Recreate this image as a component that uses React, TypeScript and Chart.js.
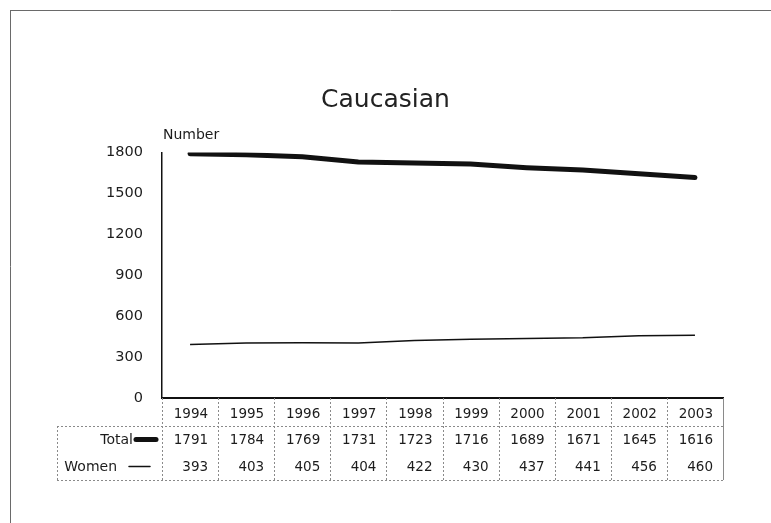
import React, { useEffect, useRef } from "react";
import { Chart, registerables } from "chart.js";

Chart.register(...registerables);

// ---- data ----
const years = ["1994", "1995", "1996", "1997", "1998", "1999", "2000", "2001", "2002", "2003"];
const totalValues = [1791, 1784, 1769, 1731, 1723, 1716, 1689, 1671, 1645, 1616];
const womenValues = [393, 403, 405, 404, 422, 430, 437, 441, 456, 460];
const yTickValues = [0, 300, 600, 900, 1200, 1500, 1800];
const seriesNames = ["Total", "Women"];
const chartTitle = "Caucasian";
const yAxisLabel = "Number";

// ---- styles ----
const FONT = "'DejaVu Sans', sans-serif";
const INK = "#1c1c1c";
const GRID = "#8a8a8a";

const tablePlugin = {
  id: "dataTable",
  afterDraw(chart: any) {
    const { ctx, chartArea, scales } = chart;
    const x = scales.x;
    const n = years.length;
    const colW = (x.getPixelForValue(n - 1) - x.getPixelForValue(0)) / (n - 1);
    const left = x.getPixelForValue(0) - colW / 2;
    const right = left + colW * n;
    const top = chartArea.bottom;
    const rowTops = [top, top + 28, top + 55];
    const bottom = top + 82;
    const labelLeft = 57;

    ctx.save();

    // page frame
    ctx.strokeStyle = "#6a6a6a";
    ctx.lineWidth = 1;
    ctx.beginPath();
    ctx.moveTo(10, 10.5);
    ctx.lineTo(771, 10.5);
    ctx.moveTo(10.5, 10);
    ctx.lineTo(10.5, 523);
    ctx.stroke();

    // axis caption
    ctx.fillStyle = INK;
    ctx.font = `14px ${FONT}`;
    ctx.textAlign = "left";
    ctx.textBaseline = "middle";
    ctx.fillText(yAxisLabel, chartArea.left + 1, chartArea.top - 17);

    // table grid (dotted)
    ctx.strokeStyle = GRID;
    ctx.lineWidth = 1;
    ctx.setLineDash([2, 2]);
    ctx.beginPath();
    for (let i = 0; i < n; i++) {
      const xx = Math.round(left + i * colW) + 0.5;
      ctx.moveTo(xx, top);
      ctx.lineTo(xx, bottom);
    }
    ctx.moveTo(labelLeft, rowTops[1] + 0.5);
    ctx.lineTo(right, rowTops[1] + 0.5);
    ctx.moveTo(labelLeft, bottom + 0.5);
    ctx.lineTo(right, bottom + 0.5);
    ctx.moveTo(labelLeft + 0.5, rowTops[1]);
    ctx.lineTo(labelLeft + 0.5, bottom);
    ctx.stroke();
    ctx.setLineDash([]);
    ctx.beginPath();
    ctx.moveTo(Math.round(right) + 0.5, top);
    ctx.lineTo(Math.round(right) + 0.5, bottom);
    ctx.stroke();

    // header row: years
    ctx.fillStyle = INK;
    ctx.font = `13.5px ${FONT}`;
    ctx.textAlign = "right";
    ctx.textBaseline = "middle";
    const rowMid = (r: number) => (r < 2 ? (rowTops[r] + rowTops[r + 1]) / 2 : (rowTops[r] + bottom) / 2);
    years.forEach((y, i) => {
      ctx.fillText(y, left + (i + 1) * colW - 10, rowMid(0) + 2);
    });

    // data rows
    const rows = [totalValues, womenValues];
    rows.forEach((vals, r) => {
      vals.forEach((v, i) => {
        ctx.fillText(String(v), left + (i + 1) * colW - 10, rowMid(r + 1) + 1);
      });
    });

    // row labels with legend keys
    const ds = chart.data.datasets;
    ctx.font = `14px ${FONT}`;
    const keyPos = [
      { textRight: 133, k0: 136, k1: 156 },
      { textRight: 117, k0: 129, k1: 150 },
    ];
    seriesNames.forEach((name, r) => {
      const cy = rowMid(r + 1) + 1;
      ctx.fillStyle = INK;
      ctx.textAlign = "right";
      ctx.fillText(name, keyPos[r].textRight, cy);
      ctx.strokeStyle = ds[r].borderColor;
      ctx.lineWidth = ds[r].borderWidth;
      ctx.lineCap = "round";
      ctx.beginPath();
      ctx.moveTo(keyPos[r].k0, cy - 1);
      ctx.lineTo(keyPos[r].k1, cy - 1);
      ctx.stroke();
    });

    ctx.restore();
  },
};

export default function App() {
  const ref = useRef<HTMLCanvasElement | null>(null);

  useEffect(() => {
    if (!ref.current) return;
    const chart = new Chart(ref.current, {
      type: "line",
      data: {
        labels: years,
        datasets: [
          {
            label: seriesNames[0],
            data: totalValues,
            borderColor: "#111111",
            borderWidth: 5,
            borderCapStyle: "round",
            borderJoinStyle: "round",
            pointRadius: 0,
            tension: 0,
            fill: false,
          },
          {
            label: seriesNames[1],
            data: womenValues,
            borderColor: "#111111",
            borderWidth: 1.5,
            pointRadius: 0,
            tension: 0,
            fill: false,
          },
        ],
      },
      options: {
        responsive: false,
        animation: false,
        devicePixelRatio: 1,
        layout: { padding: { top: 0, left: 0, right: 0, bottom: 125 } },
        plugins: {
          legend: { display: false },
          tooltip: { enabled: false },
          title: {
            display: true,
            text: chartTitle,
            color: "#222",
            font: { family: FONT, size: 25, weight: "normal" },
            padding: { top: 85, bottom: 37.5 },
          },
        },
        scales: {
          x: {
            type: "category",
            offset: true,
            grid: { display: false, drawTicks: false },
            border: { display: true, color: "#111", width: 2 },
            ticks: { display: false },
            afterFit: (s: any) => {
              s.height = 0;
            },
          },
          y: {
            min: 0,
            max: 1800,
            afterBuildTicks: (s: any) => {
              s.ticks = yTickValues.map((v) => ({ value: v }));
            },
            grid: { display: false, drawTicks: false },
            border: { display: true, color: "#111", width: 1.5 },
            ticks: {
              color: INK,
              padding: 19,
              font: { family: FONT, size: 14.5 },
              callback: (v: any) => String(v),
            },
            afterFit: (s: any) => {
              s.width = 162;
            },
          },
          yRightSpace: {
            type: "linear",
            position: "right",
            min: 0,
            max: 1800,
            grid: { display: false, drawTicks: false },
            border: { display: false },
            ticks: { display: false },
            afterFit: (s: any) => {
              s.width = 48;
            },
          },
        },
      },
      plugins: [tablePlugin],
    });
    return () => chart.destroy();
  }, []);

  return (
    <div style={{ position: "absolute", left: 0, top: 0, width: 771, height: 523, background: "#fff" }}>
      <canvas ref={ref} width={771} height={523} style={{ display: "block" }} />
    </div>
  );
}
